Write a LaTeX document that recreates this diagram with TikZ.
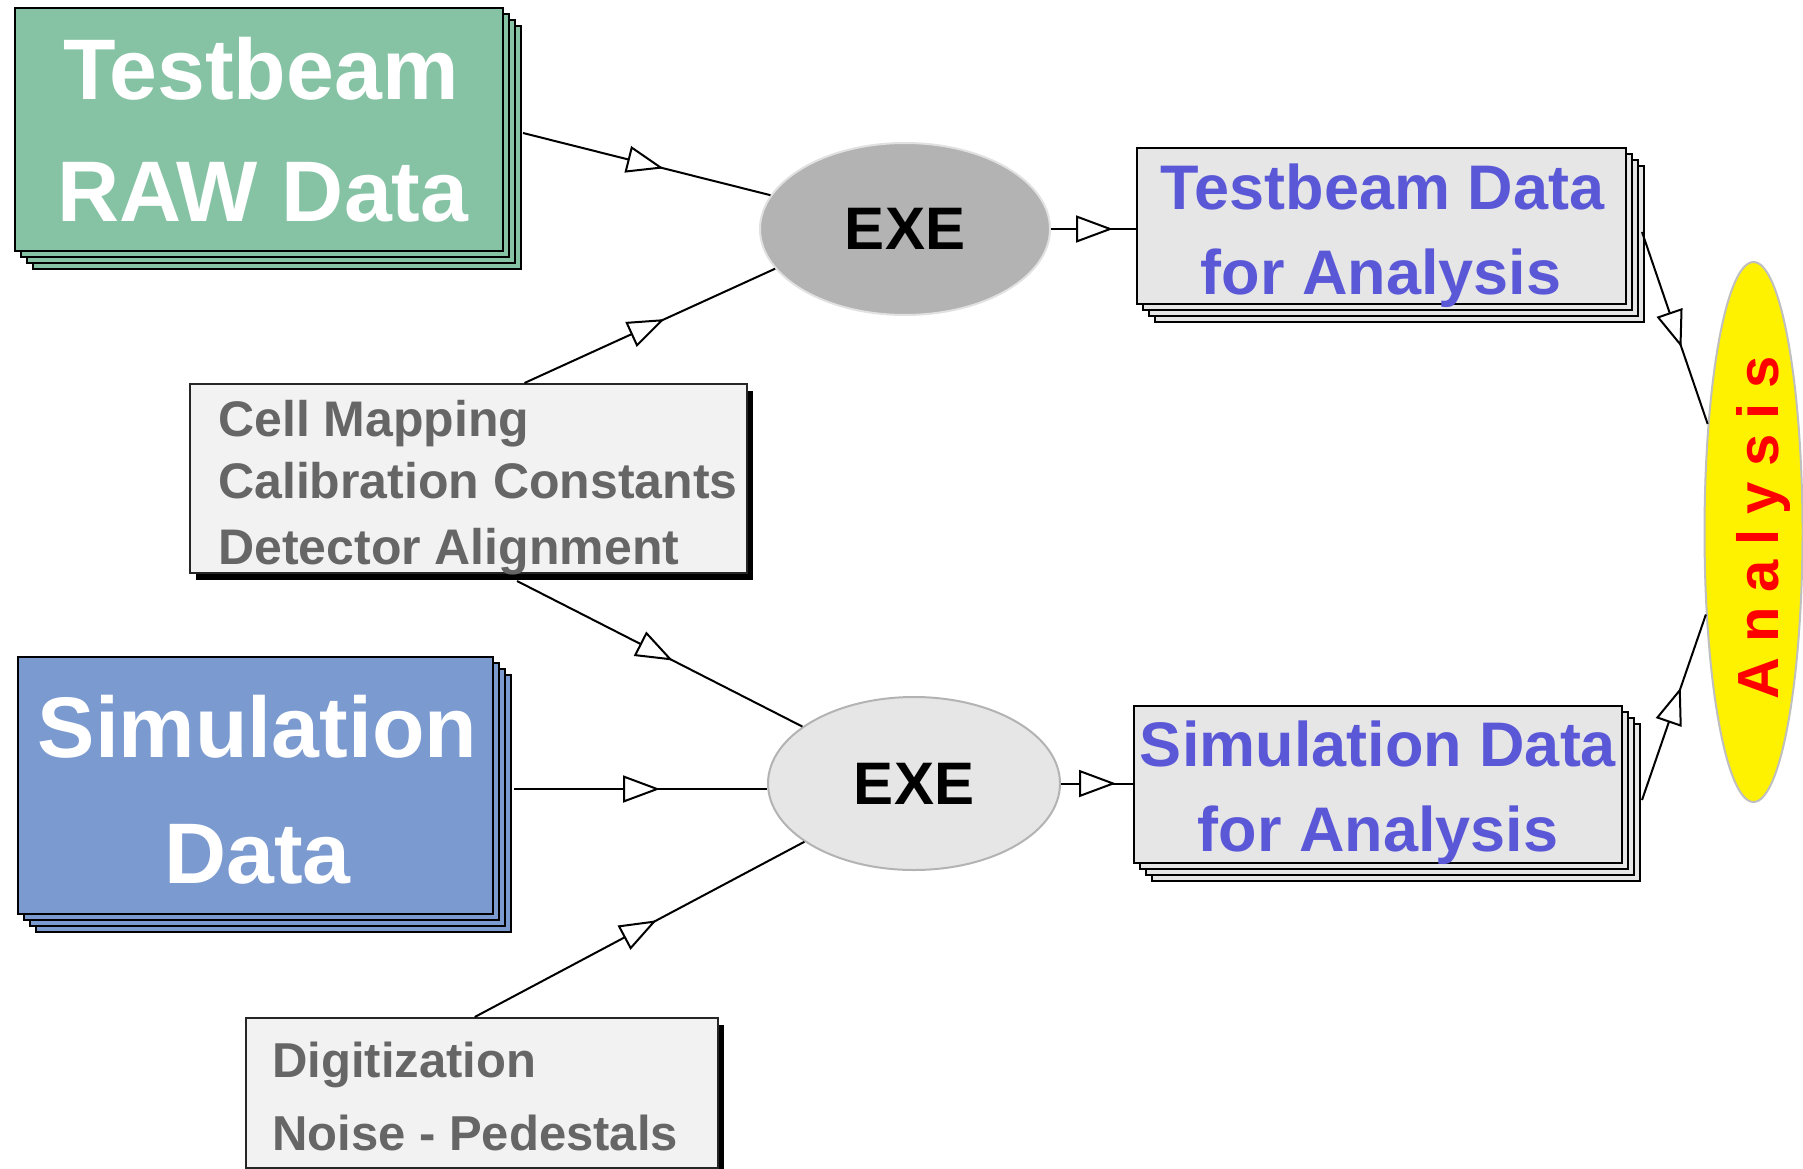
\documentclass[tikz,border=0pt]{standalone}
\usepackage{fontspec}
\setmainfont{Liberation Sans}
\usetikzlibrary{arrows.meta,shapes.geometric,shadows,decorations.markings,calc}

\definecolor{rawgreen}{RGB}{134,195,165}
\definecolor{simblue}{RGB}{123,154,208}
\definecolor{anaboxfill}{RGB}{230,230,230}
\definecolor{parfill}{RGB}{242,242,242}
\definecolor{anatext}{RGB}{91,88,216}
\definecolor{partext}{RGB}{102,102,102}
\definecolor{exedark}{RGB}{179,179,179}
\definecolor{exelight}{RGB}{230,230,230}
\definecolor{exeedge}{RGB}{225,225,225}

\newcommand{\myfs}[1]{\fontsize{#1}{#1}\selectfont\bfseries}

\tikzset{
 stackbox/.style={rectangle, draw=black, fill=#1, line width=2pt, inner sep=0pt,
   copy shadow={shadow xshift=18pt, shadow yshift=-18pt, fill=#1, draw=black, line width=2pt, opacity=1},
   copy shadow={shadow xshift=12pt, shadow yshift=-12pt, fill=#1, draw=black, line width=2pt, opacity=1},
   copy shadow={shadow xshift=6pt, shadow yshift=-6pt, fill=#1, draw=black, line width=2pt, opacity=1}},
 parambox/.style={rectangle, draw=black!85, fill=parfill, line width=2pt, inner sep=0pt,
   drop shadow={shadow xshift=6pt, shadow yshift=-7pt, fill=black, opacity=1}},
 exenode/.style={ellipse, line width=2pt, inner sep=0pt, font=\myfs{60}},
 lbl/.style={inner sep=0pt, anchor=base},
 lblleft/.style={inner sep=0pt, anchor=base west, text=partext},
 flow/.style={draw=black, line width=2pt},
 midtri/.style={postaction={decorate, decoration={markings,
   mark=at position #1 with {\arrow{Triangle[length=37pt,width=27pt,fill=white,line width=2pt]}}}}},
}

\begin{document}
\begin{tikzpicture}[x=1pt,y=-1pt]
\useasboundingbox (0,0) rectangle (1803,1169);

% source boxes
\node[stackbox=rawgreen, minimum width=488pt, minimum height=243pt] (tbraw) at (259,129.5) {};
\node[lbl, text=white, font=\myfs{86}] (tbrawa) at (261,100) {Testbeam};
\node[lbl, text=white, font=\myfs{86}] (tbrawb) at (263,222) {RAW Data};

\node[stackbox=simblue, minimum width=475pt, minimum height=257pt] (simraw) at (255.5,785.5) {};
\node[lbl, text=white, font=\myfs{86}] (simrawa) at (257.5,757) {Simulation};
\node[lbl, text=white, font=\myfs{86}] (simrawb) at (257.5,883) {Data};

% parameter boxes
\node[parambox, minimum width=557pt, minimum height=189pt] (cell) at (468.5,478.5) {};
\node[lblleft, font=\myfs{50}] (cella) at (218,436) {Cell Mapping};
\node[lblleft, font=\myfs{50}] (cellb) at (218,498) {Calibration Constants};
\node[lblleft, font=\myfs{50}] (cellc) at (218,564) {Detector Alignment};

\node[parambox, minimum width=471.5pt, minimum height=150pt] (digit) at (481.75,1093) {};
\node[lblleft, font=\myfs{49}] (digita) at (272,1077) {Digitization};
\node[lblleft, font=\myfs{49}] (digitb) at (272,1150) {Noise - Pedestals};

% executables
\node[exenode, fill=exedark, draw=exeedge, minimum width=290pt, minimum height=172pt] (exe1) at (905,229) {EXE};
\node[exenode, fill=exelight, draw=exedark, minimum width=292pt, minimum height=173pt] (exe2) at (914,783.5) {EXE};

% output boxes
\node[stackbox=anaboxfill, minimum width=489pt, minimum height=156pt] (tbana) at (1381.5,226) {};
\node[lbl, text=anatext, font=\myfs{63}] (tbanaa) at (1382.5,209.5) {Testbeam Data};
\node[lbl, text=anatext, font=\myfs{63}] (tbanab) at (1381,294) {for Analysis};

\node[stackbox=anaboxfill, minimum width=488pt, minimum height=157pt] (simana) at (1378,784.5) {};
\node[lbl, text=anatext, font=\myfs{63}] (simanaa) at (1378,766) {Simulation Data};
\node[lbl, text=anatext, font=\myfs{63}] (simanab) at (1378,851) {for Analysis};

% analysis
\node[ellipse, fill=yellow, draw=black!25, line width=2pt, minimum width=98pt, minimum height=540pt, inner sep=0pt] (ana) at (1753.5,532) {};
\node[lbl, rotate=90, text=red, font=\myfs{58}] (anatxt) at (1778,528)
  {A\kern15pt n\kern15pt a\kern15pt l\kern15pt y\kern15pt s\kern15pt i\kern15pt s};

% connectors
\coordinate (tbrawout) at ($(tbraw.east)+(19,3.5)$);
\coordinate (celltop) at ($(cell.north)+(56,0)$);
\coordinate (cellbot) at ($(cell.south)+(48.5,7)$);
\coordinate (simrawout) at ($(simraw.east)+(20,3.5)$);
\coordinate (digittop) at ($(digit.north)+(-7,0)$);
\coordinate (tbanaout) at ($(tbana.east)+(15,6)$);
\coordinate (simanaout) at ($(simana.east)+(19,15.5)$);

\draw[flow, midtri=145pt] (tbrawout) -- (exe1);
\draw[flow, midtri=154pt] (celltop) -- (exe1.197);
\draw[flow, midtri=62pt] (exe1.east) -- (exe1.east -| tbana.west);
\draw[flow, midtri=146pt] (simrawout) -- (simrawout -| exe2.west);
\draw[flow, midtri=175pt] (cellbot) -- (exe2);
\draw[flow, midtri=206pt] (digittop) -- (exe2);
\draw[flow, midtri=55pt] (exe2.east) -- (exe2.east -| simana.west);
\draw[flow, midtri=122pt] (tbanaout) -- (ana.113);
\draw[flow, midtri=119pt] (simanaout) -- (ana.240);
\end{tikzpicture}
\end{document}
